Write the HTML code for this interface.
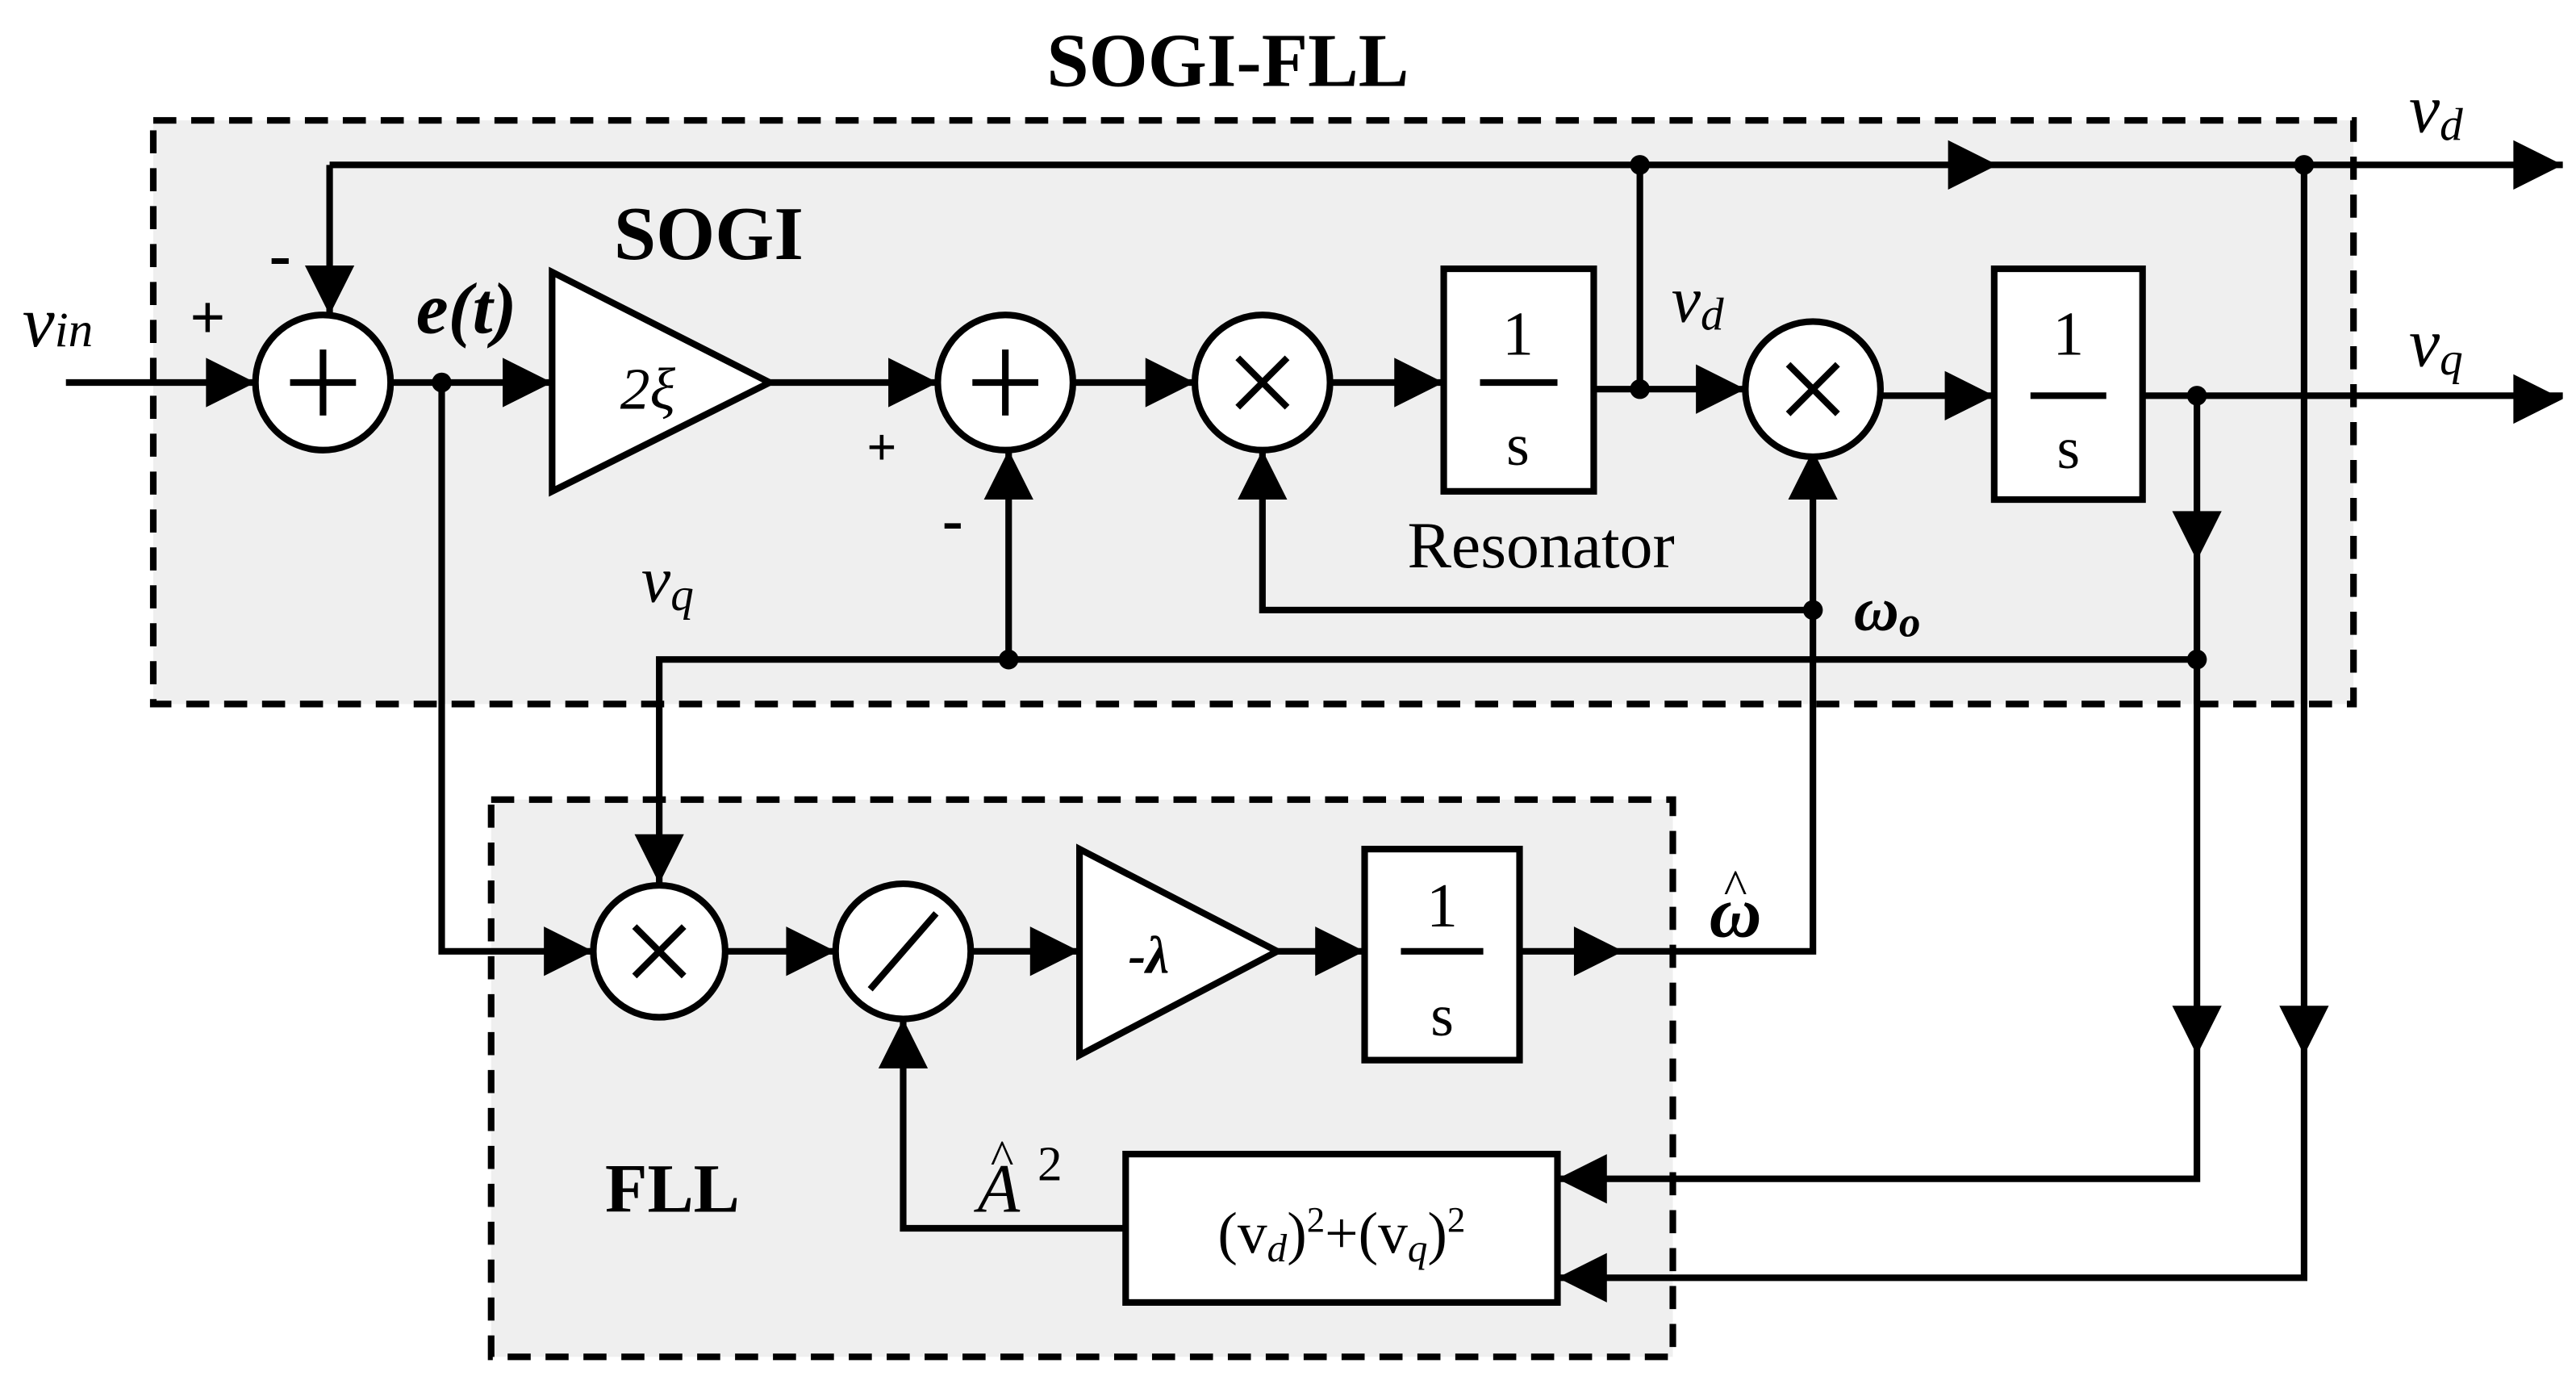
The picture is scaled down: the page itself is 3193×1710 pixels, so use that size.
<!DOCTYPE html>
<html><head><meta charset="utf-8"><style>html,body{margin:0;padding:0;background:#fff}svg{display:block}</style></head><body>
<svg width="3193" height="1710" viewBox="0 0 1563 837" xmlns="http://www.w3.org/2000/svg" font-family="Liberation Serif, serif">
<g id="boxes">
<rect x="93" y="73" width="1335" height="354" fill="#efefef" stroke="#000" stroke-width="4" stroke-dasharray="14,9"/>
<rect x="298" y="485" width="717" height="338" fill="#efefef" stroke="#000" stroke-width="4" stroke-dasharray="14,9"/>
</g>
<g stroke="#000" stroke-width="4" fill="none">
<path d="M40,232 H155 M237,232 H335 M467,232 H569 M652,232 H725 M807,232 H876 M967,236 H1059 M1142,240 H1210 M1300,240 H1555"/>
<path d="M200,100 H1555 M200,100 V191 M995,100 V236"/>
<path d="M766,273 V370 H1100 M1100,273 V577 H922"/>
<path d="M400,536 V400 H1333 M612,400 V273 M1333,240 V715 H945 M1398,100 V775 H945"/>
<path d="M268,232 V577 H360 M440,577 H507 M589,577 H655 M775,577 H828 M683,745 H548 V618"/>
</g>
<g fill="#000">
<path d="M125,217 L155,232 L125,247z"/>
<path d="M305,217 L335,232 L305,247z"/>
<path d="M539,217 L569,232 L539,247z"/>
<path d="M695,217 L725,232 L695,247z"/>
<path d="M846,217 L876,232 L846,247z"/>
<path d="M1029,221 L1059,236 L1029,251z"/>
<path d="M1180,225 L1210,240 L1180,255z"/>
<path d="M1525,227 L1555,242 L1525,257z"/>
<path d="M1525,85 L1555,100 L1525,115z"/>
<path d="M1182,85 L1212,100 L1182,115z"/>
<path d="M185,161 L200,191 L215,161z"/>
<path d="M597,303 L612,273 L627,303z"/>
<path d="M751,303 L766,273 L781,303z"/>
<path d="M1085,303 L1100,273 L1115,303z"/>
<path d="M1318,310 L1333,340 L1348,310z"/>
<path d="M1318,610 L1333,640 L1348,610z"/>
<path d="M1383,610 L1398,640 L1413,610z"/>
<path d="M385,506 L400,536 L415,506z"/>
<path d="M330,562 L360,577 L330,592z"/>
<path d="M477,562 L507,577 L477,592z"/>
<path d="M625,562 L655,577 L625,592z"/>
<path d="M798,562 L828,577 L798,592z"/>
<path d="M955,562 L985,577 L955,592z"/>
<path d="M533,648 L548,618 L563,648z"/>
<path d="M975,760 L945,775 L975,790z"/>
<path d="M975,700 L945,715 L975,730z"/>
<circle cx="268" cy="232" r="6"/><circle cx="995" cy="100" r="6"/><circle cx="995" cy="236" r="6"/>
<circle cx="1398" cy="100" r="6"/><circle cx="1333" cy="240" r="6"/><circle cx="1100" cy="370" r="6"/>
<circle cx="612" cy="400" r="6"/><circle cx="1333" cy="400" r="6"/>
</g>
<g stroke="#000" stroke-width="4" fill="#fff">
<circle cx="196" cy="232" r="41"/><circle cx="610" cy="232" r="41"/><circle cx="766" cy="232" r="41"/><circle cx="1100" cy="236" r="41"/>
<circle cx="400" cy="577" r="40"/><circle cx="548" cy="577" r="41"/>
<path d="M335,165 L467,232 L335,298z"/>
<path d="M655,515 L775,577 L655,640z"/>
<rect x="876" y="163" width="91" height="135"/>
<rect x="1210" y="163" width="90" height="140"/>
<rect x="828" y="515" width="94" height="128"/>
<rect x="683" y="700" width="262" height="90"/>
</g>
<g stroke="#000" stroke-width="4" fill="none">
<path d="M176,232 H216 M196,212 V252 M590,232 H630 M610,212 V252"/>
<path d="M751,217 L781,247 M781,217 L751,247 M1085,221 L1115,251 M1115,221 L1085,251 M385,562 L415,592 M415,562 L385,592"/>
<path d="M528,600 L568,554"/>
<path d="M898,232 H945 M1232,240 H1278 M850,577 H900"/>
</g>
<g fill="#000" text-anchor="middle">
<text x="745" y="52" font-size="46" font-weight="bold">SOGI-FLL</text>
<text x="430" y="157" font-size="46" font-weight="bold">SOGI</text>
<text x="408" y="735" font-size="42" font-weight="bold">FLL</text>
<text x="935" y="344" font-size="40">Resonator</text>
<text x="921" y="215" font-size="38">1</text><text x="921" y="282" font-size="36">s</text>
<text x="1255" y="215" font-size="38">1</text><text x="1255" y="284" font-size="36">s</text>
<text x="875" y="562" font-size="38">1</text><text x="875" y="628" font-size="36">s</text>
<text x="393" y="248" font-size="36" font-style="italic">2ξ</text>
<text x="697" y="590" font-size="32" font-weight="bold" font-style="italic">-λ</text>
<text x="35" y="210" font-size="44" font-style="italic">v<tspan font-size="30">in</tspan></text>
<text x="283" y="202" font-size="44" font-weight="bold" font-style="italic">e(t)</text>
<text x="1030" y="195" font-size="40" font-style="italic">v<tspan font-size="28" dy="5">d</tspan></text>
<text x="1478" y="80" font-size="42" font-style="italic">v<tspan font-size="28" dy="5">d</tspan></text>
<text x="1478" y="222" font-size="42" font-style="italic">v<tspan font-size="28" dy="5">q</tspan></text>
<text x="405" y="365" font-size="40" font-style="italic">v<tspan font-size="28" dy="5">q</tspan></text>
<text x="1145" y="382" font-size="38" font-weight="bold" font-style="italic">ω<tspan font-size="26" dy="4">o</tspan></text>
<text x="1053" y="568" font-size="44" font-weight="bold" font-style="italic">ω</text>
<text x="1053" y="548" font-size="30">^</text>
<text x="606" y="735" font-size="42" font-style="italic">A</text>
<text x="608" y="712" font-size="30">^</text>
<text x="637" y="716" font-size="30">2</text>
<text x="814" y="760" font-size="36">(v<tspan font-style="italic" font-size="24" dy="5">d</tspan><tspan dy="-5">)</tspan><tspan font-size="22" dy="-13">2</tspan><tspan dy="13">+(v</tspan><tspan font-style="italic" font-size="24" dy="5">q</tspan><tspan dy="-5">)</tspan><tspan font-size="22" dy="-13">2</tspan></text>
<text x="126" y="205" font-size="38" font-weight="bold">+</text>
<text x="170" y="168" font-size="40" font-weight="bold">-</text>
<text x="535" y="282" font-size="32" font-weight="bold">+</text>
<text x="578" y="328" font-size="38" font-weight="bold">-</text>
</g>
</svg>
</body></html>
